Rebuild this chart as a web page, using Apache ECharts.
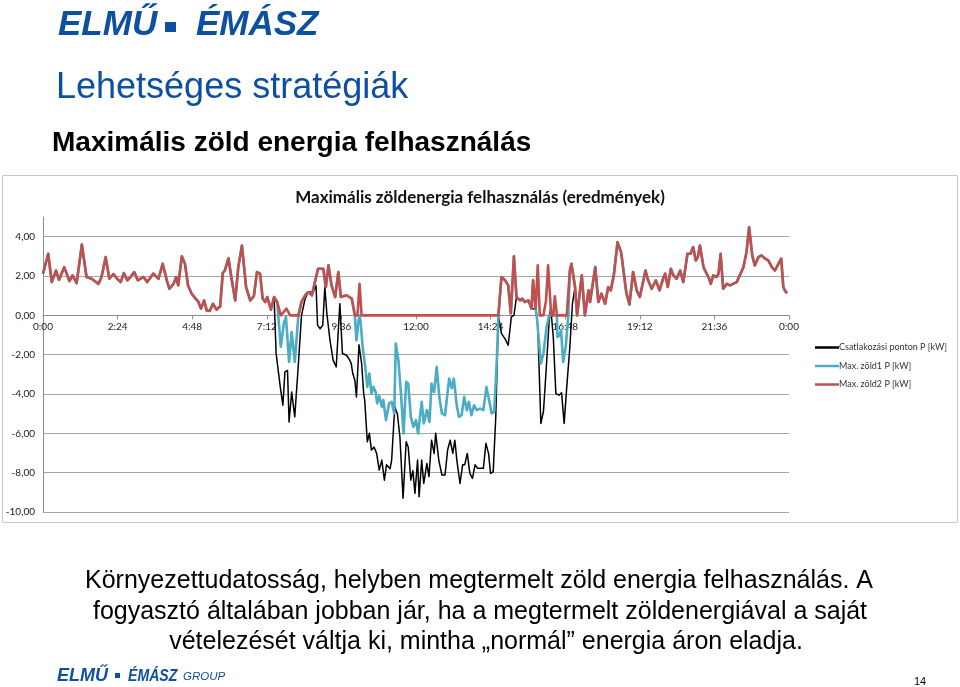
<!DOCTYPE html>
<html><head><meta charset="utf-8">
<script src="https://cdn.jsdelivr.net/npm/echarts@6/dist/echarts.min.js"></script>
<style>html,body{margin:0;padding:0;background:#fff}#c{width:960px;height:687px}</style>
</head><body><div id="c"></div>
<script>
// minutes since 0:00, kW
const seriesNames = ['Csatlakozási ponton P [kW]', 'Max. zöld1 P [kW]', 'Max. zöld2 P [kW]'];
const redPoints = [[0,2.12],[10,3.13],[17,1.69],[25,2.28],[31,1.81],[41,2.45],[51,1.74],[57,2.03],[65,1.64],[75,3.6],[84,1.95],[94,1.86],[107,1.6],[113,1.95],[121,2.96],[128,1.86],[136,2.1],[143,1.86],[150,1.69],[156,2.15],[163,1.78],[169,1.95],[176,2.2],[183,1.78],[194,1.95],[201,1.69],[213,2.12],[223,1.86],[231,2.62],[239,1.78],[244,1.35],[252,1.6],[257,1.95],[261,1.52],[268,3.0],[274,2.62],[280,1.52],[287,1.1],[293,0.9],[300,0.68],[305,0.34],[311,0.76],[316,0.25],[322,0.22],[328,0.59],[335,0.29],[342,0.46],[347,2.15],[351,2.28],[358,2.9],[364,1.86],[371,0.76],[377,2.45],[384,3.55],[387,3.55],[392,1.44],[400,0.76],[407,0.97],[413,2.2],[419,2.12],[424,0.85],[429,0.68],[433,0.93],[440,0.29],[446,0.93],[452,0.68],[459,0],[470,0.34],[477,0],[493,0],[499,0.68],[506,1.02],[512,1.18],[519,1.02],[525,1.7],[531,2.37],[541,2.37],[546,1.44],[551,2.54],[557,1.52],[564,0.93],[570,2.2],[575,0.93],[586,1.02],[596,0.85],[602,0],[607,0],[611,1.6],[615,0],[879,0],[885,1.95],[892,1.78],[898,1.52],[903,0.1],[909,3.0],[914,0.93],[921,0.76],[925,0.85],[930,0.68],[937,0.76],[943,0.34],[946,1.78],[951,0.34],[955,2.54],[959,0],[966,0],[971,0.76],[975,2.54],[981,0],[985,0],[988,0.97],[992,0],[1011,0],[1017,2.28],[1020,2.62],[1027,1.44],[1031,0],[1040,2.03],[1046,0],[1053,1.27],[1056,0.68],[1066,2.45],[1072,0.68],[1078,1.1],[1085,0.59],[1091,1.44],[1096,1.27],[1102,2.07],[1109,3.72],[1116,3.2],[1126,1.15],[1132,0.55],[1139,2.2],[1146,1.27],[1152,0.93],[1163,2.28],[1168,1.78],[1175,1.35],[1183,1.78],[1190,1.27],[1197,1.86],[1201,2.12],[1206,1.44],[1212,2.37],[1217,2.03],[1223,1.86],[1230,2.28],[1236,1.69],[1244,3.13],[1250,3.13],[1255,3.47],[1260,2.79],[1264,2.96],[1268,3.55],[1275,2.45],[1281,2.12],[1286,1.86],[1289,1.6],[1294,2.03],[1300,1.95],[1304,2.12],[1308,3.13],[1313,1.35],[1320,1.6],[1326,1.52],[1332,1.6],[1339,1.69],[1345,2.03],[1352,2.45],[1358,3.22],[1363,4.48],[1369,3.05],[1374,2.54],[1381,2.96],[1387,3.05],[1394,2.88],[1400,2.79],[1407,2.45],[1413,2.28],[1418,2.54],[1425,2.88],[1429,1.44],[1432,1.27],[1436,1.13]];
// where the blue series leaves the red one
const blueDip1 = [[452,0.68],[459,-1.6],[465,-0.4],[469,-0.08],[475,-2.37],[480,-0.85],[486,-2.37],[493,0]];
const blueDip2 = [[596,0.85],[602,0],[605,-1.27],[609,-0.3],[611,0],[613,-0.3],[617,-1.6],[622,-2.62],[626,-3.64],[630,-2.96],[634,-3.98],[638,-3.64],[642,-3.9],[645,-4.48],[649,-4.1],[654,-4.65],[657,-4.3],[662,-5.33],[668,-4.48],[673,-4.4],[678,-4.99],[681,-1.44],[686,-2.28],[691,-3.98],[696,-6.01],[701,-3.38],[705,-3.47],[710,-5.16],[715,-5.67],[720,-5.33],[724,-6.01],[731,-4.4],[735,-5.5],[741,-4.82],[746,-5.42],[750,-3.47],[755,-3.9],[760,-2.62],[765,-4.14],[770,-4.99],[776,-5.08],[780,-4.14],[784,-3.22],[789,-3.7],[793,-3.22],[799,-4.65],[803,-5.16],[808,-5.08],[813,-4.14],[818,-4.82],[822,-4.4],[827,-5.08],[832,-4.57],[837,-4.82],[844,-4.74],[850,-4.82],[856,-3.64],[861,-4.31],[866,-4.99],[871,-4.9],[876,-2.28],[879,0]];
const blueDip3 = [[951,0.34],[953,0],[961,-2.45],[966,-1.94],[972,-0.6],[977,0],[981,0],[985,0],[992,0],[993,-1.1],[997,-1.0],[1000,-0.75],[1004,-2.37],[1009,-1.6],[1014,0]];
// where the black series leaves the blue/red one
const blackDip1 = [[446,0.93],[450,-1.94],[458,-3.64],[463,-4.57],[467,-2.88],[472,-2.8],[475,-5.42],[480,-3.9],[486,-5.16],[493,-2.45],[499,0],[506,0.85],[512,1.18],[522,1.2],[527,1.52],[530,-0.5],[535,-0.68],[540,-0.5],[544,1.44],[548,0.08],[554,-1.27],[560,-2.28],[566,-2.62],[573,0.59],[578,-1.94],[586,-2.03],[592,-2.28],[595,-2.45],[598,-2.96],[602,-3.3],[605,-4.15],[610,-1.5],[615,-2.45],[619,-3.98],[621,-4.31],[626,-6.43],[630,-6.0],[634,-6.85],[639,-6.7],[644,-7.02],[649,-7.87],[654,-7.36],[659,-8.38],[663,-7.6],[670,-7.8],[673,-7.36],[679,-4.65],[684,-5.0],[689,-6.2],[695,-9.3],[701,-6.43],[705,-6.7],[710,-8.38],[714,-7.9],[718,-9.05],[723,-7.36],[726,-9.22],[731,-7.36],[735,-8.55],[741,-7.53],[745,-8.2],[750,-6.35],[755,-7.02],[758,-6.0],[764,-7.36],[770,-8.12],[776,-8.12],[781,-6.85],[786,-6.35],[791,-7.02],[795,-6.35],[799,-7.4],[805,-8.55],[810,-7.6],[814,-7.6],[819,-7.02],[824,-8.04],[829,-8.29],[834,-7.6],[839,-7.78],[843,-7.78],[850,-7.78],[855,-6.51],[860,-7.02],[864,-8.04],[869,-7.96],[874,-5.16],[879,0],[885,-0.93],[892,-1.2],[898,-1.52],[901,-1.6],[904,-0.08],[909,0],[914,0.93]];
const blackDip2 = [[943,0.34],[951,0.34],[955,-0.5],[961,-5.5],[966,-4.9],[971,-2.88],[977,-0.3],[980,0.4],[985,-1.1],[990,-3.98],[996,-4.06],[1001,-3.94],[1006,-5.5],[1011,-3.64],[1017,-1.6],[1022,0.6],[1027,1.44]];

function mergeDips(base, dips) {
  let pts = base.slice();
  dips.forEach(d => {
    const a = d[0][0], b = d[d.length - 1][0];
    pts = pts.filter(p => p[0] < a || p[0] > b).concat(d);
  });
  return pts.sort((p, q) => p[0] - q[0]);
}
const blueData = mergeDips(redPoints, [blueDip1, blueDip2, blueDip3]);
const blackData = mergeDips(blueData, [blackDip1, blackDip2]);

function fmtTime(m) { const h = Math.floor(m / 60) % 24, mm = m % 60; return h + ':' + (mm < 10 ? '0' : '') + mm; }

const Y_MIN = -10, Y_MAX = 5, GRID_TOP = 217, GRID_BOTTOM = 175, CH = 687;
const plotH = CH - GRID_TOP - GRID_BOTTOM;
const zeroOffset = -plotH * (0 - Y_MIN) / (Y_MAX - Y_MIN); // raise x axis to y=0

const BLUE = '#0d4fa0';
const ARIAL = '"Liberation Sans", Arial, sans-serif';
const chart = echarts.init(document.getElementById('c'), null, {renderer: 'canvas'});
const cal = 'Lato, "Open Sans", sans-serif';
chart.setOption({
  animation: false,
  backgroundColor: '#fff',
  textStyle: {fontFamily: cal},
  title: {
    text: 'Maximális zöldenergia felhasználás (eredmények)',
    left: 'center', top: 184,
    textStyle: {fontFamily: cal, fontWeight: 'bold', fontSize: 17, color: '#111'}
  },
  grid: {left: 43, right: 171, top: GRID_TOP, bottom: GRID_BOTTOM},
  legend: {
    orient: 'vertical', left: 810, top: 338, itemWidth: 24, itemHeight: 2.5, itemGap: 9.5,
    icon: 'rect',
    textStyle: {fontFamily: cal, fontSize: 9, color: '#333', padding: [0,0,0,-5]},
    data: seriesNames
  },
  xAxis: {
    type: 'value', min: 0, max: 1440, interval: 144, position: 'bottom', offset: zeroOffset,
    axisLine: {onZero: false, lineStyle: {color: '#8c8c8c', width: 1}},
    axisTick: {show: true, length: 4, lineStyle: {color: '#8c8c8c'}},
    axisLabel: {margin: 6, fontSize: 10, color: '#222', formatter: v => fmtTime(v)},
    splitLine: {show: false}
  },
  yAxis: {
    type: 'value', min: Y_MIN, max: Y_MAX, interval: 2,
    axisLine: {show: true, lineStyle: {color: '#8c8c8c'}},
    axisTick: {show: false},
    axisLabel: {margin: 8, fontSize: 10, color: '#222', formatter: v => v > 4 ? '' : v.toFixed(2).replace('.', ',')},
    splitLine: {show: true, lineStyle: {color: ['#a6a6a6','#a6a6a6','#a6a6a6','#a6a6a6','#a6a6a6','#a6a6a6','#a6a6a6','#a6a6a6','rgba(0,0,0,0)'], width: 1}}
  },
  series: [
    {name: seriesNames[0], type: 'line', data: blackData, symbol: 'none', lineStyle: {color: '#000', width: 1.5, join: 'round'}, itemStyle: {color: '#000'}},
    {name: seriesNames[1], type: 'line', data: blueData, symbol: 'none', lineStyle: {color: '#4bacc6', width: 2.6, join: 'round'}, itemStyle: {color: '#4bacc6'}},
    {name: seriesNames[2], type: 'line', data: redPoints, symbol: 'none', lineStyle: {color: '#c0504d', width: 2.6, join: 'round'}, itemStyle: {color: '#c0504d'}}
  ],
  graphic: [
    {type: 'rect', z: -10, shape: {x: 2.5, y: 175.5, width: 955, height: 347}, style: {fill: '#fff', stroke: '#c8c8c8', lineWidth: 1}},
    {type: 'text', x: 58, y: 25, style: {text: 'ELMŰ', font: 'italic bold 35px ' + ARIAL, fill: BLUE, verticalAlign: 'middle'}},
    {type: 'rect', shape: {x: 165, y: 22, width: 11, height: 10}, style: {fill: BLUE}},
    {type: 'text', x: 196, y: 25, style: {text: 'ÉMÁSZ', font: 'italic bold 35px ' + ARIAL, fill: BLUE, verticalAlign: 'middle'}},
    {type: 'text', x: 56, y: 88, style: {text: 'Lehetséges stratégiák', font: '36px ' + ARIAL, fill: BLUE, verticalAlign: 'middle'}},
    {type: 'text', x: 52, y: 143, style: {text: 'Maximális zöld energia felhasználás', font: 'bold 28px ' + ARIAL, fill: '#000', verticalAlign: 'middle'}},
    {type: 'text', x: 479, y: 581, style: {text: 'Környezettudatosság, helyben megtermelt zöld energia felhasználás. A', font: '25px ' + ARIAL, fill: '#000', align: 'center', verticalAlign: 'middle'}},
    {type: 'text', x: 480, y: 612, style: {text: 'fogyasztó általában jobban jár, ha a megtermelt zöldenergiával a saját', font: '25px ' + ARIAL, fill: '#000', align: 'center', verticalAlign: 'middle'}},
    {type: 'text', x: 486, y: 642, style: {text: 'vételezését váltja ki, mintha „normál” energia áron eladja.', font: '25px ' + ARIAL, fill: '#000', align: 'center', verticalAlign: 'middle'}},
    {type: 'text', x: 57, y: 676, style: {text: 'ELMŰ', font: 'italic bold 18px ' + ARIAL, fill: BLUE, verticalAlign: 'middle'}},
    {type: 'rect', shape: {x: 115, y: 673, width: 5, height: 5}, style: {fill: BLUE}},
    {type: 'text', x: 128, y: 676, scaleX: 0.83, style: {text: 'ÉMÁSZ', font: 'italic bold 17px ' + ARIAL, fill: BLUE, verticalAlign: 'middle'}},
    {type: 'text', x: 183, y: 677, style: {text: 'GROUP', font: 'italic 11.5px ' + ARIAL, fill: BLUE, verticalAlign: 'middle'}},
    {type: 'text', x: 920, y: 682, style: {text: '14', font: '11px ' + ARIAL, fill: '#000', align: 'center', verticalAlign: 'middle'}}
  ]
});
</script></body></html>
